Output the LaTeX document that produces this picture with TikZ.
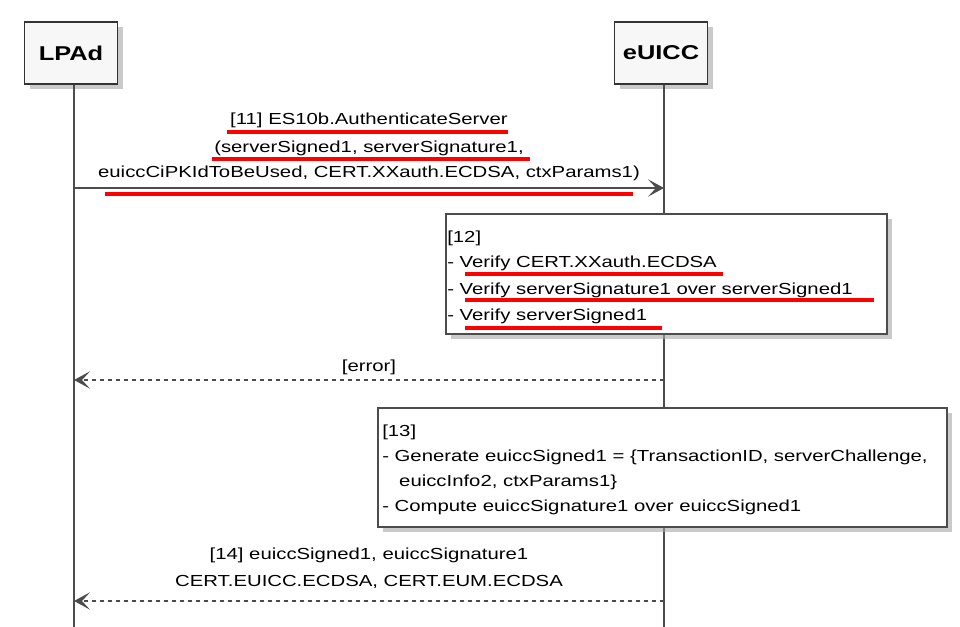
\documentclass[tikz,border=0pt]{standalone}
\usepackage{fontspec}
\setmainfont{Liberation Sans}[FakeStretch=1.27]
\usetikzlibrary{arrows.meta,shadows}
\begin{document}
\begin{tikzpicture}[x=0.75pt,y=-0.75pt,font=\fontsize{12}{14}\selectfont,
  part/.style={draw=black!80,line width=1.2pt,fill=black!3,minimum width=93*0.75pt,minimum height=62*0.75pt,font=\fontsize{15}{17}\selectfont\bfseries,drop shadow={shadow xshift=4pt,shadow yshift=-4pt,fill=black!35,opacity=0.6}},
  life/.style={draw=black!70,line width=0.8pt},
  msg/.style={draw=black!70,line width=1pt,-{Stealth[length=12pt,width=13pt,inset=6pt]}},
  ret/.style={msg,dashed,dash pattern=on 3pt off 3pt},
  note/.style={draw=black!70,line width=1pt,fill=white,drop shadow={shadow xshift=4pt,shadow yshift=-4pt,fill=black!35,opacity=0.6}},
  ul/.style={draw=red,line width=2.3pt},
  t/.style={anchor=west,inner sep=0pt}]
\useasboundingbox (0,0) rectangle (960,627);
\node[part] (lpad) at (71,53) {LPAd};
\node[part] (euicc) at (661,53) {eUICC};
\coordinate (le) at (74,627); \coordinate (ee) at (664,627);
\draw[life] (lpad.south -| le) -- (le);
\draw[life] (euicc.south -| ee) -- (ee);
\coordinate (a1s) at (74,188); \coordinate (a1e) at (664,188);
\draw[msg] (a1s) -- (a1e);
\node[inner sep=0pt,align=center] (l11) at (369,147) {[11] ES10b.AuthenticateServer\\[7pt](serverSigned1, serverSignature1,\\[5pt]euiccCiPKIdToBeUsed, CERT.XXauth.ECDSA, ctxParams1)};
\draw[ul] (227,132) -- (508,132);
\draw[ul] (212,159) -- (530,159);
\draw[ul] (105,194) -- (633,194);
\node[note,minimum width=441*0.75pt,minimum height=120*0.75pt] (n12) at (666.5,274) {};
\node[t] at (447,238) {[12]};
\node[t] at (447,263) {- Verify CERT.XXauth.ECDSA};
\node[t] at (447,290) {- Verify serverSignature1 over serverSigned1};
\node[t] at (447,316) {- Verify serverSigned1};
\draw[ul] (465,274) -- (723,274);
\draw[ul] (465,300) -- (874,300);
\draw[ul] (465,328) -- (662,328);
\coordinate (e1) at (664,380); \coordinate (e2) at (74,380);
\draw[ret] (e1) -- (e2);
\node (le1) at (369,367) {[error]};
\node[note,minimum width=569*0.75pt,minimum height=119*0.75pt] (n13) at (662.5,467.5) {};
\node[t] at (382,432) {[13]};
\node[t] at (382,457) {- Generate euiccSigned1 = \{TransactionID, serverChallenge,};
\node[t] at (382,482) {\ \ \ euiccInfo2, ctxParams1\}};
\node[t] at (382,507) {- Compute euiccSignature1 over euiccSigned1};
\coordinate (f1) at (664,601); \coordinate (f2) at (74,601);
\draw[ret] (f1) -- (f2);
\node[inner sep=0pt,align=center] (l14) at (369,568) {[14] euiccSigned1, euiccSignature1\\[6pt]CERT.EUICC.ECDSA, CERT.EUM.ECDSA};
\end{tikzpicture}
\end{document}
